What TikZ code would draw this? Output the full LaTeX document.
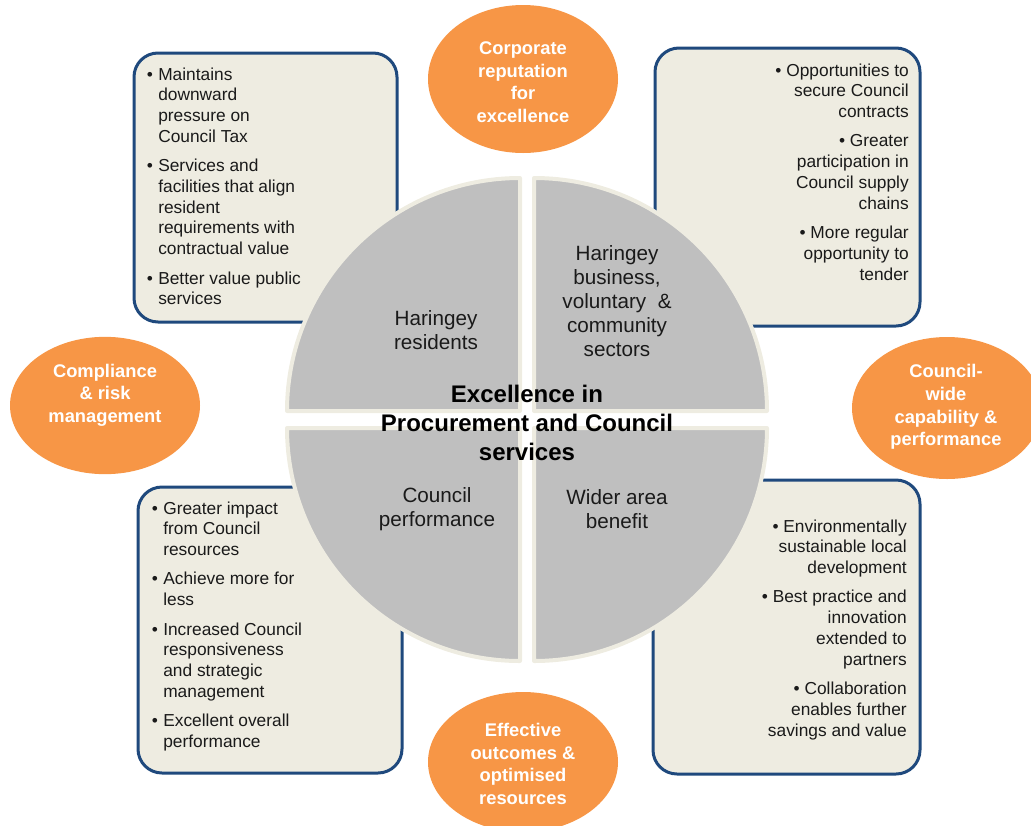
\documentclass[tikz,border=0pt]{standalone}
\usepackage{fontspec}
\setmainfont{Liberation Sans}
\usetikzlibrary{shapes.geometric,fit}
\definecolor{orng}{HTML}{F79646}
\definecolor{qgray}{HTML}{BFBFBF}
\definecolor{beige}{HTML}{EEECE1}
\definecolor{dblue}{HTML}{1F497D}
\definecolor{txt}{HTML}{1A1A1A}
\makeatletter
\newcommand{\Litem}[1]{{\let\\\@normalcr\hangindent=8.5pt\hangafter=1\noindent\makebox[8.5pt][l]{•}#1\par}}
\makeatother
\newcommand{\Ritem}[1]{{\noindent•\ #1\par}}
\begin{document}
\begin{tikzpicture}[x=0.75pt,y=-0.75pt,
  box/.style={draw=dblue, line width=2.25pt, fill=beige, rounded corners=18pt, inner sep=0pt},
  quad/.style={fill=qgray, draw=beige, line width=3pt, line join=round},
  oval/.style={ellipse, fill=orng, draw=none, inner sep=0pt},
  ovaltext/.style={text=white, font=\fontsize{13.75}{16.9}\selectfont\bfseries, align=center, inner sep=0pt},
  qtext/.style={text=txt, font=\fontsize{15.5}{18}\selectfont, align=center, inner sep=0pt},
  titletext/.style={text=black, font=\fontsize{18}{21.75}\selectfont\bfseries, align=center, inner sep=0pt},
  btext/.style={text=txt, inner sep=0pt, font=\fontsize{13}{15.56}\selectfont}]
\useasboundingbox (0,0) rectangle (1031,825);

% boxes
\node[box, fit={(134,53) (397,322)}] (tlbox) {};
\node[box, fit={(655,48) (920,326)}] (trbox) {};
\node[box, fit={(138,487) (402,773)}] (blbox) {};
\node[box, fit={(653,480) (920,774)}] (brbox) {};

% box texts
\node[btext, anchor=base west] (tltext) at (146.7,80) {\begin{minipage}[t]{172pt}\setlength{\parskip}{6.5pt}\raggedright
\Litem{Maintains\\downward\\pressure on\\Council Tax}
\Litem{Services and\\facilities that align\\resident\\requirements with\\contractual value}
\Litem{Better value public\\services}
\end{minipage}};
\node[btext, anchor=base west] (bltext) at (151.7,514) {\begin{minipage}[t]{180pt}\setlength{\parskip}{6.5pt}\raggedright
\Litem{Greater impact\\from Council\\resources}
\Litem{Achieve more for\\less}
\Litem{Increased Council\\responsiveness\\and strategic\\management}
\Litem{Excellent overall\\performance}
\end{minipage}};
\node[btext, anchor=base east] (trtext) at (909,76) {\begin{minipage}[t]{180pt}\setlength{\parskip}{6.5pt}\raggedleft
\Ritem{Opportunities to\\secure Council\\contracts}
\Ritem{Greater\\participation in\\Council supply\\chains}
\Ritem{More regular\\opportunity to\\tender}
\end{minipage}};
\node[btext, anchor=base east] (brtext) at (907,532) {\begin{minipage}[t]{180pt}\setlength{\parskip}{6.5pt}\raggedleft
\Ritem{Environmentally\\sustainable local\\development}
\Ritem{Best practice and\\innovation\\extended to\\partners}
\Ritem{Collaboration\\enables further\\savings and value}
\end{minipage}};

% quadrants
\draw[quad] (520,411) -- ++(180:174.75pt) arc[start angle=180, end angle=90, radius=174.75pt] -- cycle;
\draw[quad] (534,411) -- ++(90:174.75pt) arc[start angle=90, end angle=0, radius=174.75pt] -- cycle;
\draw[quad] (534,428) -- ++(0:174.75pt) arc[start angle=0, end angle=-90, radius=174.75pt] -- cycle;
\draw[quad] (520,428) -- ++(-90:174.75pt) arc[start angle=-90, end angle=-180, radius=174.75pt] -- cycle;

% quadrant labels
\node[qtext] (qtl) at (436,330) {Haringey\\residents};
\node[qtext] (qtr) at (617,301) {Haringey\\business,\\voluntary~ \&\\community\\sectors};
\node[qtext] (qbl) at (437,509) {Council\\performance};
\node[qtext] (qbr) at (617,509) {Wider area\\benefit};
\node[titletext] (title) at (527,423) {Excellence in\\Procurement and Council\\services};

% ellipses
\node[oval, minimum width=142.5pt, minimum height=111pt] (etop) at (523,79) {};
\node[oval, minimum width=142.5pt, minimum height=103pt] (eleft) at (105,405.5) {};
\node[oval, minimum width=142.5pt, minimum height=106.5pt] (eright) at (947,408) {};
\node[oval, minimum width=142.5pt, minimum height=105pt] (ebottom) at (523,762) {};
\node[ovaltext] (ttop) at (523,82) {Corporate\\reputation\\for\\excellence};
\node[ovaltext] (tleft) at (105,395) {Compliance\\\& risk\\management};
\node[ovaltext] (tright) at (946,407) {Council-\\wide\\capability \&\\performance};
\node[ovaltext] (tbottom) at (523,764) {Effective\\outcomes \&\\optimised\\resources};
\end{tikzpicture}
\end{document}
